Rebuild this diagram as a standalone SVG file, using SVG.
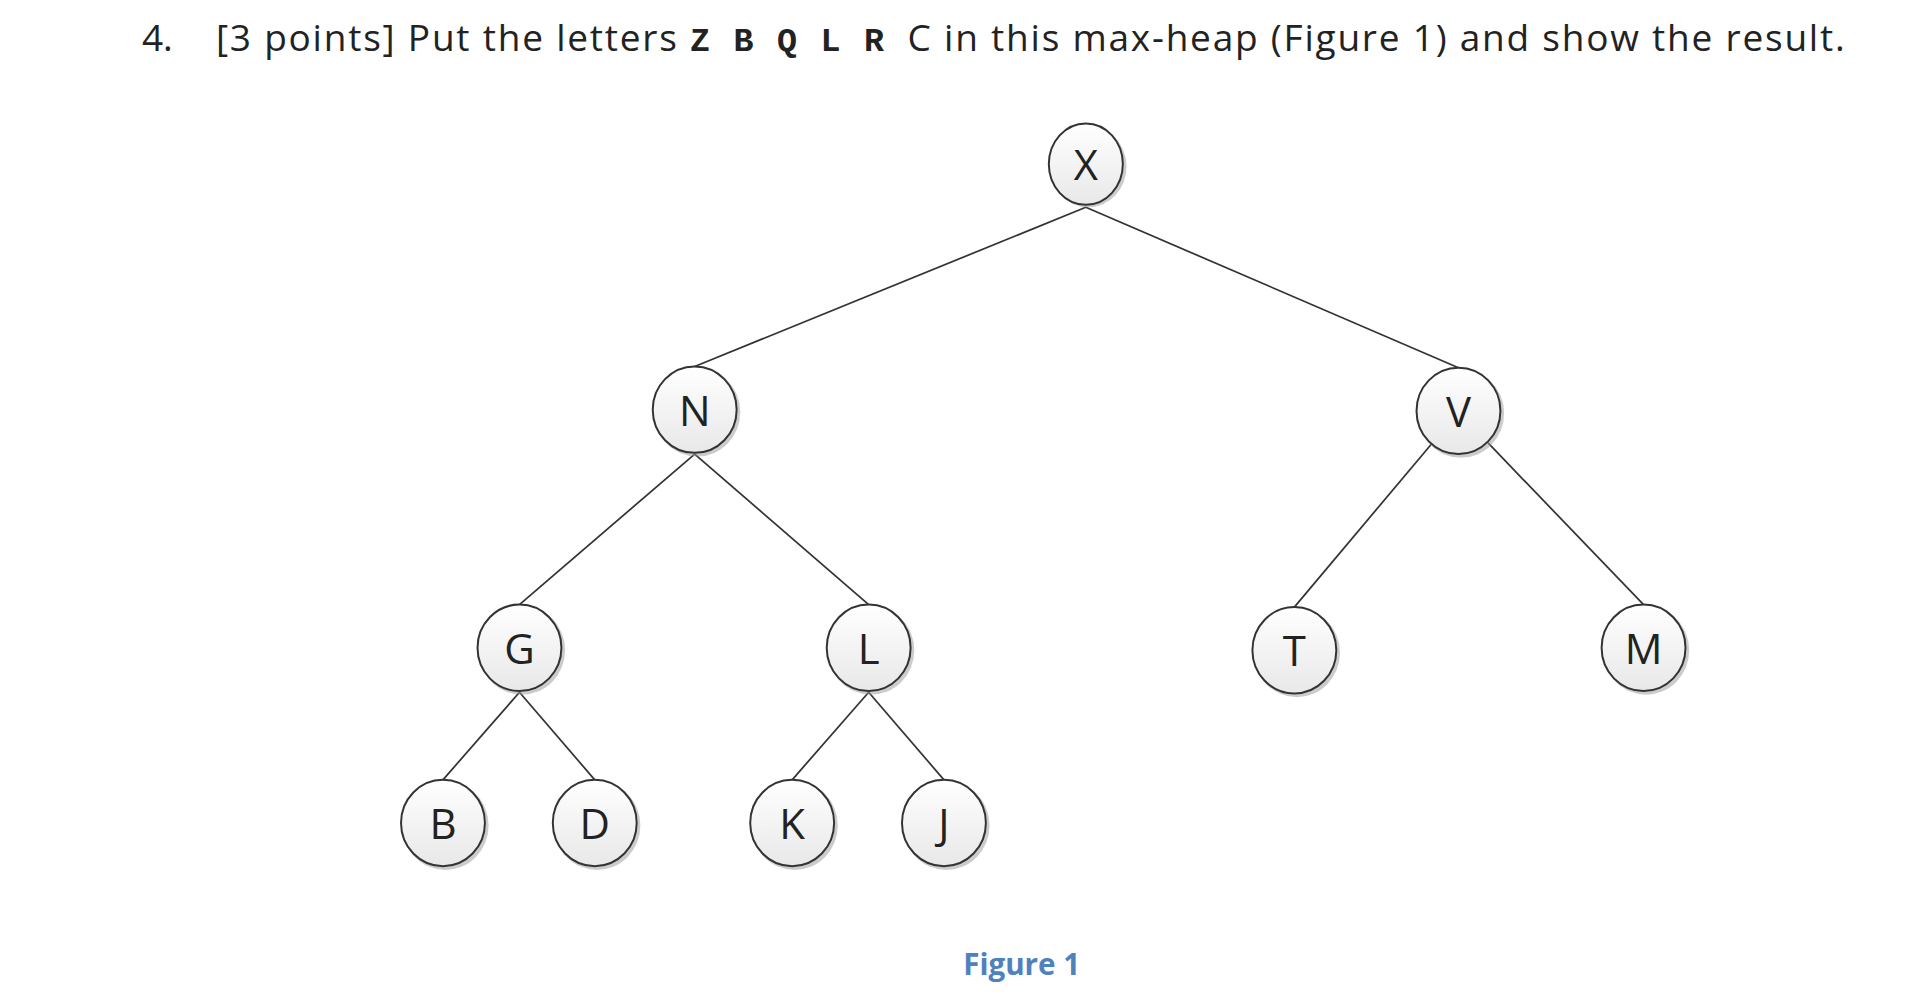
<svg xmlns="http://www.w3.org/2000/svg" width="1920" height="1003" viewBox="0 0 1920 1003">
<style>
.t{font-family:"Open Sans","Liberation Sans",sans-serif;font-size:30px;fill:#222}
.m{font-family:"Liberation Mono","DejaVu Sans Mono",monospace;font-weight:bold;font-size:27px}
.n ellipse.c{fill:url(#g);stroke:#333;stroke-width:1.6}
.n ellipse.s{fill:#999;opacity:.5}
.n text{font-family:"Open Sans","Liberation Sans",sans-serif;font-size:34px;fill:#222;text-anchor:middle}
#edges line{stroke:#333;stroke-width:1.4}
</style>
<defs><linearGradient id="g" x1="0" y1="0" x2="0" y2="1"><stop offset="0" stop-color="#fff"/><stop offset="1" stop-color="#e8e8e8"/></linearGradient></defs>
<rect width="1920" height="1003" fill="#fff"/>
<g transform="scale(1.2339)">
<text x="115" y="41" class="t">4.</text>
<text x="175" y="41" class="t" textLength="1320" lengthAdjust="spacing" xml:space="preserve">[3 points] Put the letters <tspan class="m">Z B Q L R </tspan>C in this max-heap (Figure 1) and show the result.</text>
<g id="edges">
<line x1="880" y1="168" x2="563" y2="297"/>
<line x1="880" y1="168" x2="1182" y2="298"/>
<line x1="563" y1="368" x2="421" y2="490"/>
<line x1="563" y1="368" x2="704" y2="490"/>
<line x1="1160" y1="360" x2="1049" y2="492"/>
<line x1="1206" y1="359" x2="1332" y2="490"/>
<line x1="421" y1="561" x2="359" y2="632"/>
<line x1="421" y1="561" x2="482" y2="632"/>
<line x1="704" y1="561" x2="642" y2="632"/>
<line x1="704" y1="561" x2="765" y2="632"/>
</g>
<g id="nX" class="n"><ellipse class="s" cx="882" cy="135" rx="31" ry="33"/><ellipse class="c" cx="880" cy="133" rx="30" ry="33"/><text x="880" y="146">X</text></g>
<g id="nN" class="n"><ellipse class="s" cx="565" cy="334" rx="35" ry="36"/><ellipse class="c" cx="563" cy="332" rx="34" ry="35"/><text x="563" y="345">N</text></g>
<g id="nV" class="n"><ellipse class="s" cx="1184" cy="335" rx="35" ry="36"/><ellipse class="c" cx="1182" cy="333" rx="34" ry="35"/><text x="1182" y="346">V</text></g>
<g id="nG" class="n"><ellipse class="s" cx="423" cy="527" rx="35" ry="36"/><ellipse class="c" cx="421" cy="525" rx="34" ry="35"/><text x="421" y="538">G</text></g>
<g id="nL" class="n"><ellipse class="s" cx="706" cy="527" rx="35" ry="36"/><ellipse class="c" cx="704" cy="525" rx="34" ry="35"/><text x="704" y="538">L</text></g>
<g id="nT" class="n"><ellipse class="s" cx="1051" cy="529" rx="35" ry="36"/><ellipse class="c" cx="1049" cy="527" rx="34" ry="35"/><text x="1049" y="540">T</text></g>
<g id="nM" class="n"><ellipse class="s" cx="1334" cy="527" rx="35" ry="36"/><ellipse class="c" cx="1332" cy="525" rx="34" ry="35"/><text x="1332" y="538">M</text></g>
<g id="nB" class="n"><ellipse class="s" cx="361" cy="669" rx="35" ry="36"/><ellipse class="c" cx="359" cy="667" rx="34" ry="35"/><text x="359" y="680">B</text></g>
<g id="nD" class="n"><ellipse class="s" cx="484" cy="669" rx="35" ry="36"/><ellipse class="c" cx="482" cy="667" rx="34" ry="35"/><text x="482" y="680">D</text></g>
<g id="nK" class="n"><ellipse class="s" cx="644" cy="669" rx="35" ry="36"/><ellipse class="c" cx="642" cy="667" rx="34" ry="35"/><text x="642" y="680">K</text></g>
<g id="nJ" class="n"><ellipse class="s" cx="767" cy="669" rx="35" ry="36"/><ellipse class="c" cx="765" cy="667" rx="34" ry="35"/><text x="765" y="680">J</text></g>
<text x="828" y="790" text-anchor="middle" style="font-family:'Open Sans','Liberation Sans',sans-serif;font-size:24px;font-weight:bold;fill:#4f81bd">Figure 1</text>
</g>
</svg>
